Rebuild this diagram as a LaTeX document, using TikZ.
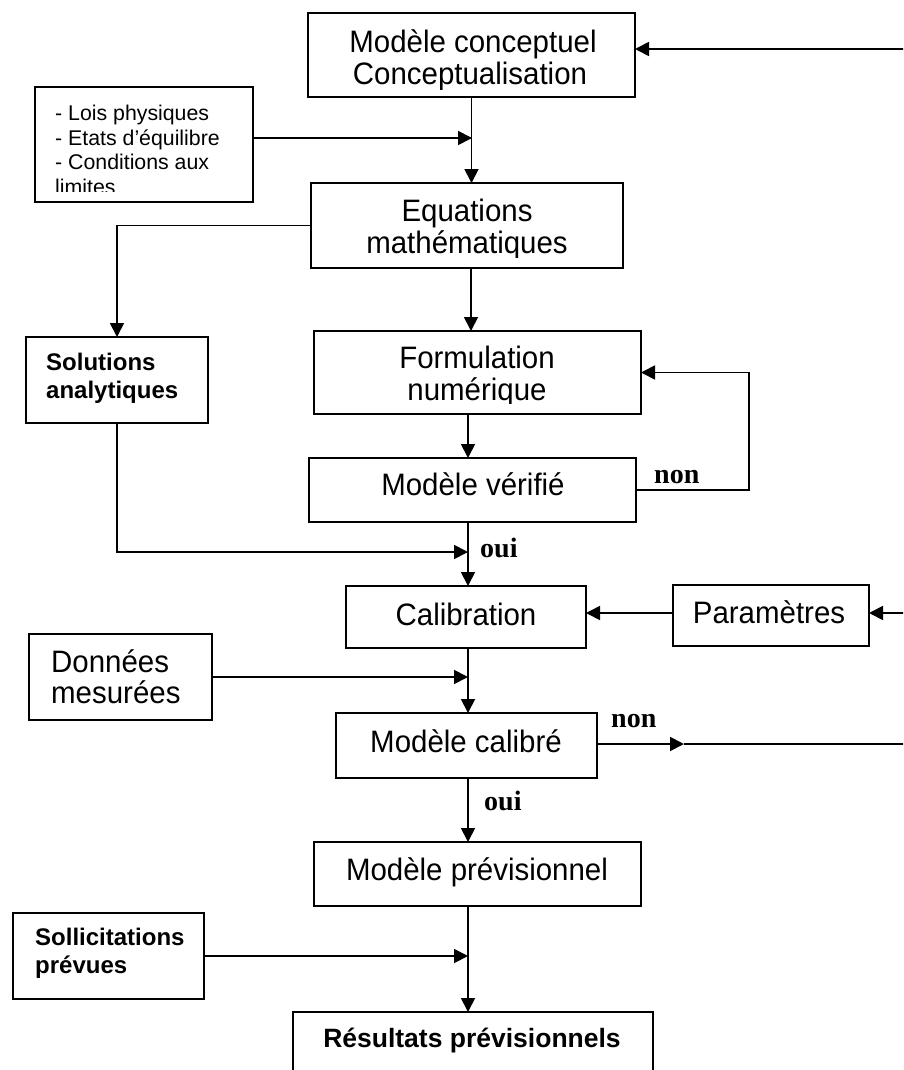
\documentclass[tikz,border=0pt]{standalone}
\usepackage{fontspec}
\setmainfont{Liberation Sans}
\newfontfamily\boxfont[FakeStretch=0.95]{Liberation Sans}
\newfontfamily\labelfont{Liberation Serif}
\usetikzlibrary{arrows.meta}

% framed box given by its corners (x1,y1) and (x2,y2)
\newcommand\tbox[5]{%
  \node[box, minimum width={(#4-#2)*1pt}, minimum height={(#5-#3)*1pt}]
    (#1) at ({(#2+#4)/2},{(#3+#5)/2}) {};}

\begin{document}
\begin{tikzpicture}[x=1pt,y=-1pt,
  box/.style={draw=black, line width=1.6pt, inner sep=0pt, outer sep=0pt},
  txt/.style={inner sep=0pt, anchor=base, font=\boxfont\fontsize{31}{31}\selectfont},
  txtl/.style={inner sep=0pt, anchor=base west, font=\boxfont\fontsize{31}{31}\selectfont},
  small/.style={inner sep=0pt, anchor=base west, font=\fontsize{21.3}{24}\selectfont},
  btxt/.style={inner sep=0pt, anchor=base west, font=\bfseries\fontsize{24}{24}\selectfont},
  lab/.style={inner sep=0pt, anchor=base west, font=\labelfont\bfseries\fontsize{28}{28}\selectfont},
  ln/.style={line width=1.8pt},
  arr/.style={line width=1.8pt, -{Triangle[length=14pt,width=14pt]}}]
\useasboundingbox (0,0) rectangle (903,1070);
\clip (0,0) rectangle (903,1070);

% ---------- boxes ----------
\tbox{mc}{308}{13}{635}{97}
\tbox{laws}{35}{87}{253}{202}
\tbox{eq}{311}{183}{623}{268}
\tbox{sol}{26}{337}{208}{423}
\tbox{form}{314}{331}{641}{414}
\tbox{mv}{309}{458}{636}{522}
\tbox{cal}{346}{586}{586}{648}
\tbox{par}{673}{585}{869}{646}
\tbox{don}{29}{634}{212}{720}
\tbox{mcal}{336}{713}{597}{778}
\tbox{mp}{314}{842}{641}{906}
\tbox{sollic}{13}{913}{204}{999}
\tbox{res}{293}{1012}{653}{1110}

% ---------- box texts (text frames cut their overflow) ----------
\begin{scope}
  \clip (308,13) rectangle (635,90);
  \node[txt] (mc-a) at (473,53) {Modèle conceptuel};
  \node[txt] (mc-b) at (470,85) {Conceptualisation};
\end{scope}
\begin{scope}
  \clip (35,87) rectangle (253,191);
  \node[small] (laws-a) at (55,121) {- Lois physiques};
  \node[small] (laws-b) at (55,145) {- Etats d’équilibre};
  \node[small] (laws-c) at (55,169.5) {- Conditions aux};
  \node[small] (laws-d) at (55,194.5) {limites};
\end{scope}
\begin{scope}
  \clip (311,183) rectangle (623,257);
  \node[txt] (eq-a) at (467,221) {Equations};
  \node[txt] (eq-b) at (467,253) {mathématiques};
\end{scope}
\node[btxt] (sol-a) at (46,370) {Solutions};
\node[btxt] (sol-b) at (46,398) {analytiques};
\begin{scope}
  \clip (314,331) rectangle (641,403);
  \node[txt] (form-a) at (477,368) {Formulation};
  \node[txt] (form-b) at (477,400) {numérique};
\end{scope}
\node[txt] (mv-a) at (473,495) {Modèle vérifié};
\node[txt] (cal-a) at (466,625) {Calibration};
\node[txt] (par-a) at (769,623) {Paramètres};
\node[txtl] (don-a) at (51,672) {Données};
\node[txtl] (don-b) at (51,703) {mesurées};
\node[txt] (mcal-a) at (466,752) {Modèle calibré};
\node[txt] (mp-a) at (477,880) {Modèle prévisionnel};
\node[btxt] (sollic-a) at (35,945) {Sollicitations};
\node[btxt] (sollic-b) at (35,973) {prévues};
\node[inner sep=0pt, anchor=base, font=\bfseries\fontsize{26.5}{26.5}\selectfont]
  (res-a) at (472,1047) {Résultats prévisionnels};

% ---------- connectors ----------
\coordinate (ax) at (468,0);
\coordinate (edgeA) at (906,49);
\coordinate (edgeB) at (906,613);
\coordinate (edgeC) at (906,744);
\coordinate (midC) at (684,744);
\coordinate (lawsin) at (472,138);
\coordinate (solin) at (468,552);

\draw[arr] (edgeA) -- (edgeA -| mc.east);
\draw[arr] (mc.south) -- (mc.south |- eq.north);
\draw[arr] (laws.east |- lawsin) -- (lawsin);
\draw[arr] (eq.west) -| (sol.north);
\draw[arr] (eq.south -| 471,0) -- (form.north -| 471,0);
\draw[arr] (form.south -| ax) -- (mv.north -| ax);
\draw[arr] (mv.east) -- ++(113,0) |- (form.east);
\draw[arr] (sol.south) |- (solin);
\draw[arr] (mv.south -| ax) -- (cal.north -| ax);
\draw[arr] (edgeB) -- (edgeB -| par.east);
\draw[arr] (par.west |- edgeB) -- (edgeB -| cal.east);
\draw[arr] (don.east) -- (don.east -| ax);
\draw[arr] (cal.south -| ax) -- (mcal.north -| ax);
\draw[arr] (mcal.east |- midC) -- (midC);
\draw[ln] (midC) -- (edgeC);
\draw[arr] (mcal.south -| ax) -- (mp.north -| ax);
\draw[arr] (mp.south -| ax) -- (res.north -| ax);
\draw[arr] (sollic.east) -- (sollic.east -| ax);

% ---------- branch labels ----------
\node[lab] (non1) at (654,483) {non};
\node[lab] (oui1) at (480,557) {oui};
\node[lab] (non2) at (611,727) {non};
\node[lab] (oui2) at (484,810) {oui};
\end{tikzpicture}
\end{document}
